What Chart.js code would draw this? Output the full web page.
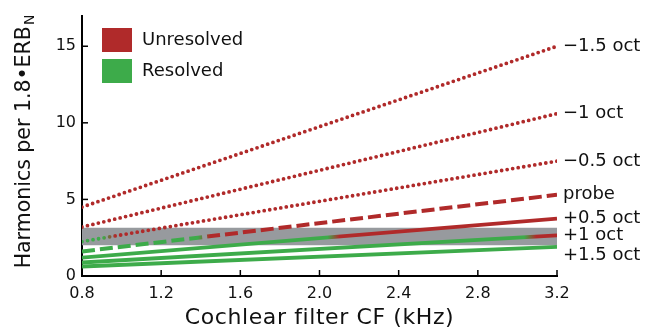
<!DOCTYPE html>
<html>
<head>
<meta charset="utf-8">
<script src="https://cdn.jsdelivr.net/npm/chart.js@4/dist/chart.umd.min.js"></script>
<style>
  html, body { margin: 0; padding: 0; background: #fff; }
  #wrap { width: 662px; height: 330px; }
</style>
</head>
<body>
<div id="wrap"><canvas id="chart" width="662" height="330"></canvas></div>
<script>
// データ
const cf = [0.8, 3.2];
const minus15 = [4.5, 15.0];
const minus10 = [3.2, 10.6];
const minus05 = [2.25, 7.5];
const probe = [1.6, 5.3];
const plus05 = [1.2, 3.75];
const plus10 = [0.88, 2.65];
const plus15 = [0.62, 1.9];
const bandLow = [2.0, 2.0];
const bandHigh = [3.15, 3.15];
const lineNames = ['−1.5 oct', '−1 oct', '−0.5 oct', 'probe', '+0.5 oct', '+1 oct', '+1.5 oct'];
const legendNames = ['Unresolved', 'Resolved'];
const xTicks = [0.8, 1.2, 1.6, 2.0, 2.4, 2.8, 3.2];
const yTicks = [0, 5, 10, 15];
const resolvedLimit = 2.55;

const RED = '#b02a2a';
const GREEN = '#3dab4a';
const GRAY = '#979a9e';
const FONT = '"DejaVu Sans", sans-serif';

function pts(vals) {
  return cf.map((x, i) => ({ x: x, y: vals[i] }));
}

// 境界値を越える位置で緑→赤に変わるグラデーション
function statusColor(ctx) {
  const chart = ctx.chart;
  const area = chart.chartArea;
  if (!area || ctx.datasetIndex === undefined) return RED;
  const data = chart.data.datasets[ctx.datasetIndex].data;
  const xs = chart.scales.x;
  let cross = null;
  for (let i = 0; i < data.length - 1; i++) {
    const a = data[i], b = data[i + 1];
    if ((a.y - resolvedLimit) * (b.y - resolvedLimit) <= 0 && a.y !== b.y) {
      const t = (resolvedLimit - a.y) / (b.y - a.y);
      cross = xs.getPixelForValue(a.x + t * (b.x - a.x));
      break;
    }
  }
  if (cross === null) return data[0].y > resolvedLimit ? RED : GREEN;
  const g = chart.ctx.createLinearGradient(area.left, 0, area.right, 0);
  const w = area.right - area.left;
  const s0 = Math.min(Math.max((cross - 6 - area.left) / w, 0), 1);
  const s1 = Math.min(Math.max((cross + 6 - area.left) / w, 0), 1);
  g.addColorStop(0, GREEN);
  g.addColorStop(s0, GREEN);
  g.addColorStop(s1, RED);
  g.addColorStop(1, RED);
  return g;
}

const dotted = { borderDash: [0, 5.6], borderCapStyle: 'round', borderWidth: 3.8 };
const dashed = { borderDash: [13, 5], borderCapStyle: 'butt', borderWidth: 4 };
const solid = { borderDash: [], borderCapStyle: 'butt', borderWidth: 3.8 };

function lineSet(vals, style) {
  return Object.assign({
    data: pts(vals),
    borderColor: statusColor,
    pointRadius: 0,
    fill: false,
    tension: 0,
    order: 1
  }, style);
}

const seriesList = [minus15, minus10, minus05, probe, plus05, plus10, plus15];
const styleList = [dotted, dotted, dotted, dashed, solid, solid, solid];

const datasets = seriesList.map((s, i) => lineSet(s, styleList[i]));
datasets.push({
  data: pts(bandLow), borderWidth: 0, pointRadius: 0, fill: false, order: 5,
  borderColor: 'rgba(0,0,0,0)'
});
datasets.push({
  data: pts(bandHigh), borderWidth: 0, pointRadius: 0, fill: '-1', order: 5,
  borderColor: 'rgba(0,0,0,0)', backgroundColor: GRAY
});

// 軸の内向き目盛、凡例、右側ラベル、軸タイトル
const decor = {
  id: 'decor',
  afterDraw(chart) {
    const ctx = chart.ctx;
    const xs = chart.scales.x, ys = chart.scales.y;
    const area = chart.chartArea;
    ctx.save();
    ctx.strokeStyle = '#000';
    ctx.lineWidth = 1.5;
    xTicks.forEach(v => {
      const px = xs.getPixelForValue(v);
      ctx.beginPath(); ctx.moveTo(px, area.bottom); ctx.lineTo(px, area.bottom - 6); ctx.stroke();
    });
    yTicks.forEach(v => {
      const py = ys.getPixelForValue(v);
      ctx.beginPath(); ctx.moveTo(area.left, py); ctx.lineTo(area.left + 6, py); ctx.stroke();
    });

    // 凡例
    ctx.textBaseline = 'middle';
    ctx.textAlign = 'left';
    ctx.font = '18px ' + FONT;
    [RED, GREEN].forEach((c, i) => {
      const y0 = 28 + i * 31;
      ctx.fillStyle = c;
      ctx.fillRect(102, y0, 30, 24);
      ctx.fillStyle = '#111';
      ctx.fillText(legendNames[i], 142, y0 + 12);
    });

    // 右側ラベル
    ctx.font = '18px ' + FONT;
    ctx.fillStyle = '#111';
    seriesList.forEach((s, i) => {
      let py = ys.getPixelForValue(s[s.length - 1]);
      if (i === seriesList.length - 1) py += 8;
      ctx.fillText(lineNames[i], area.right + 6, py);
    });

    // x軸タイトル
    ctx.font = '22px ' + FONT;
    ctx.textAlign = 'center';
    ctx.letterSpacing = '0.6px';
    ctx.fillText('Cochlear filter CF (kHz)', (area.left + area.right) / 2, 318);

    // y軸タイトル（下付きN）
    ctx.letterSpacing = '0px';
    ctx.translate(25, 142);
    ctx.rotate(-Math.PI / 2);
    ctx.textAlign = 'left';
    const main = 'Harmonics per 1.8•ERB';
    ctx.font = '20.5px ' + FONT;
    const wMain = ctx.measureText(main).width;
    ctx.font = '14px ' + FONT;
    const wSub = ctx.measureText('N').width;
    const start = -(wMain + wSub) / 2;
    ctx.font = '20.5px ' + FONT;
    ctx.fillText(main, start, 0);
    ctx.font = '14px ' + FONT;
    ctx.fillText('N', start + wMain + 1, 5);
    ctx.restore();
  }
};

const myChart = new Chart(document.getElementById('chart').getContext('2d'), {
  type: 'line',
  data: { datasets: datasets },
  plugins: [decor],
  options: {
    responsive: false,
    animation: false,
    layout: { padding: { top: 7, right: 105, left: 0, bottom: 0 } },
    plugins: { legend: { display: false }, tooltip: { enabled: false } },
    scales: {
      x: {
        type: 'linear',
        min: 0.8, max: 3.2,
        grid: { display: false, drawTicks: false },
        border: { display: true, color: '#000', width: 2 },
        afterBuildTicks: s => { s.ticks = xTicks.map(v => ({ value: v })); },
        afterFit: s => { s.height = 54; },
        ticks: {
          color: '#111', padding: 8,
          font: { family: FONT, size: 16 },
          callback: v => Number(v).toFixed(1)
        }
      },
      y: {
        type: 'linear',
        min: 0, max: 17,
        grid: { display: false, drawTicks: false },
        border: { display: true, color: '#000', width: 2 },
        afterBuildTicks: s => { s.ticks = yTicks.map(v => ({ value: v })); },
        afterFit: s => { s.width = 82; },
        ticks: {
          color: '#111', padding: 6,
          font: { family: FONT, size: 16 }
        }
      }
    }
  }
});
</script>
</body>
</html>
